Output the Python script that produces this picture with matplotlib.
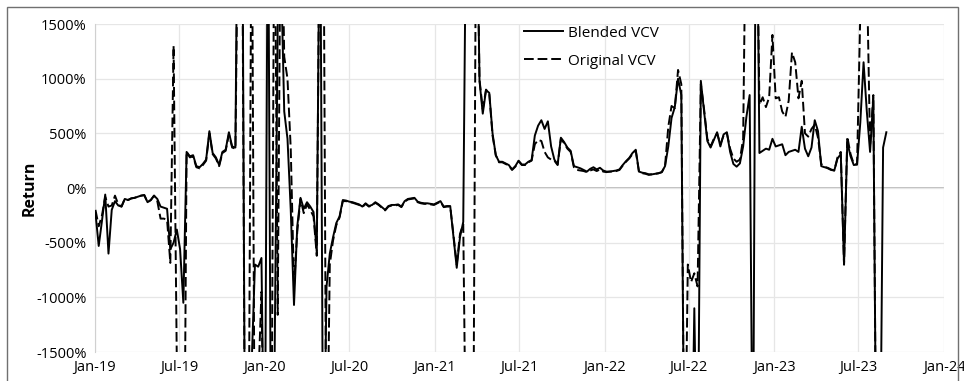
import matplotlib

matplotlib.use("Agg")
import matplotlib.dates as mdates
import matplotlib.pyplot as plt
import pandas as pd
from matplotlib.patches import Rectangle
from matplotlib.ticker import FuncFormatter

plt.rcParams["font.family"] = ["Open Sans", "DejaVu Sans"]

# weekly returns in percent
blended = [
    -230, -530, -300, -60, -600, -200, -120, -160, -170, -100,
    -110, -95, -90, -80, -70, -65, -130, -110, -70, -100,
    -170, -180, -190, -560, -500, -380, -560, -1050, 330, 290,
    300, 200, 190, 220, 260, 520, 320, 280, 210, 330,
    350, 510, 380, 370, 4000, 3500, -3000, -3000, -1600, -700,
    -720, -640, -3000, 3000, -3000, -1700, 1500, 2000, 700, 450,
    -200, -1070, -350, -90, -190, -130, -170, -220, -580, 3000,
    -3000, -900, -600, -450, -320, -260, -110, -115, -125, -130,
    -140, -150, -170, -140, -165, -155, -130, -150, -175, -200,
    -165, -155, -155, -150, -170, -120, -100, -95, -90, -125,
    -135, -140, -140, -145, -150, -135, -120, -170, -165, -165,
    -450, -730, -450, -310, 3000, 3000, 3000, 3000, 980, 680,
    895, 870, 500, 300, 240, 240, 225, 210, 170, 200,
    250, 215, 215, 240, 255, 480, 570, 620, 540, 610,
    380, 260, 215, 460, 420, 370, 340, 200, 190, 180,
    165, 150, 175, 190, 170, 185, 160, 150, 150, 155,
    160, 170, 210, 245, 275, 320, 350, 150, 140, 135,
    125, 125, 130, 135, 145, 200, 380, 640, 740, 1000,
    850, -3000, -3000, -3000, -1100, -3000, 980, 700, 430, 370,
    440, 510, 380, 490, 510, 330, 220, 195, 225, 380,
    650, 850, -3000, 3500, 320, 340, 360, 350, 450, 380,
    390, 400, 300, 330, 340, 350, 330, 560, 360, 290,
    370, 620, 520, 200, 190, 185, 170, 160, 270, 310,
    -700, 420, 290, 210, 215, 600, 1150, 700, 330, 830,
    -3000, -3000, 370, 510,
]

original = [
    -200, -350, -250, -80, -170, -160, -70, -150, -170, -100,
    -110, -95, -90, -80, -70, -65, -130, -110, -70, -120,
    -280, -280, -290, -685, 1300, -1700, -3000, -4000, 330, 280,
    290, 190, 180, 210, 250, 500, 310, 270, 200, 320,
    340, 490, 370, 360, 3000, 3000, -3000, -3000, 3000, -3000,
    -1800, -950, -3000, -3000, -3000, 3000, -1160, 3000, 1200, 1000,
    360, -900, -400, -100, -230, -150, -200, -260, -620, 3000,
    3000, -3000, -700, -480, -340, -270, -120, -120, -130, -135,
    -145, -155, -175, -145, -170, -160, -135, -155, -180, -205,
    -170, -160, -160, -155, -175, -125, -105, -100, -95, -130,
    -140, -145, -145, -150, -155, -140, -125, -175, -170, -170,
    -430, -700, -420, -330, -3000, -3000, -3000, 3000, 990, 720,
    900, 860, 480, 300, 235, 235, 220, 205, 165, 195,
    245, 210, 210, 235, 250, 400, 440, 430, 330, 280,
    260, 250, 210, 450, 410, 360, 330, 190, 165, 160,
    155, 145, 160, 170, 155, 170, 150, 145, 150, 150,
    155, 165, 205, 240, 270, 310, 340, 145, 135, 130,
    120, 125, 130, 135, 145, 200, 560, 750, 730, 1080,
    950, -3000, -700, -860, -780, -900, 950, 720, 450, 380,
    450, 500, 400, 480, 500, 360, 270, 240, 260, 450,
    3000, 3000, 3000, 3000, 760, 830, 740, 830, 1400, 820,
    830, 700, 650, 800, 1240, 1150, 820, 980, 500, 470,
    540, 580, 460, 220, 195, 180, 165, 160, 280, 330,
    -700, 470, 310, 220, 215, 1600, 3000, 2000, 380, 850,
    -3000, -3000,
]

y_ticks = [-1500, -1000, -500, 0, 500, 1000, 1500]

blended_dates = pd.date_range("2019-01-02", periods=len(blended), freq="7D")
original_dates = pd.date_range("2019-01-02", periods=len(original), freq="7D")

fig = plt.figure(figsize=(9.64, 3.81), dpi=100)
ax = fig.add_axes([95 / 964, 29 / 381, 849 / 964, 328 / 381])

ax.plot(blended_dates, blended, color="black", lw=1.4, label="Blended VCV", zorder=3)
ax.plot(original_dates, original, color="black", lw=1.4, ls=(0, (5, 2)),
        label="Original VCV", zorder=3)

ax.set_xlim(pd.Timestamp("2019-01-01"), pd.Timestamp("2024-01-01"))
ax.set_ylim(-1500, 1500)
ax.set_yticks(y_ticks)
ax.yaxis.set_major_formatter(FuncFormatter(lambda v, _: f"{v:.0f}%"))
ax.xaxis.set_major_locator(mdates.MonthLocator(bymonth=[1, 7]))
ax.xaxis.set_major_formatter(mdates.DateFormatter("%b-%y"))

ax.grid(True, color="#e6e6e6", lw=0.9, zorder=0)
ax.axhline(0, color="#bdbdbd", lw=1.4, zorder=1)
for side in ["top", "right", "bottom"]:
    ax.spines[side].set_visible(False)
ax.spines["left"].set_color("#d0d0d0")
ax.tick_params(length=0, labelsize=10.5, pad=6)
ax.set_ylabel("Return", fontsize=11.5, fontweight="bold", labelpad=-1)

ax.legend(loc="upper left", bbox_to_anchor=(510 / 964, 1 - 12 / 381),
          bbox_transform=fig.transFigure, frameon=False, fontsize=11,
          handlelength=2.6, handletextpad=0.3, labelspacing=0.85)

fig.patches.append(Rectangle((7 / 964, -0.01), 951 / 964, 1 - 7 / 381 + 0.01,
                             transform=fig.transFigure, fill=False,
                             edgecolor="#707070", lw=1.0))

fig.savefig("out.png", dpi=100)
